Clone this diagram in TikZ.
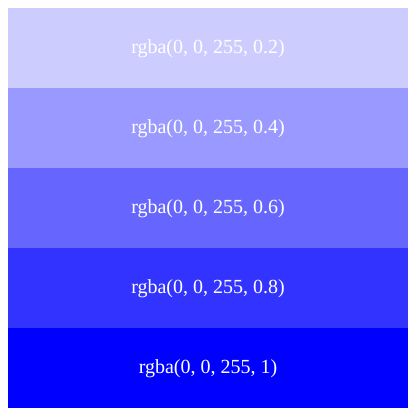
\documentclass[tikz,border=0pt]{standalone}
\usepackage{fontspec}
\setmainfont{Liberation Serif}
\definecolor{cA}{RGB}{204,204,255}
\definecolor{cB}{RGB}{153,153,255}
\definecolor{cC}{RGB}{102,102,255}
\definecolor{cD}{RGB}{51,51,255}
\definecolor{cE}{RGB}{0,0,255}
\begin{document}
\begin{tikzpicture}[x=1pt,y=-1pt,
  band/.style={minimum width=400pt,minimum height=80pt,inner sep=0pt,outer sep=0pt,fill=#1,anchor=north west},
  lbl/.style={text=white,font=\fontsize{20}{24}\selectfont,inner sep=0pt}]
\useasboundingbox (0,0) rectangle (417,417);
\node[band=cA] (b1) at (8,8) {};
\node[band=cB] (b2) at (8,88) {};
\node[band=cC] (b3) at (8,168) {};
\node[band=cD] (b4) at (8,248) {};
\node[band=cE] (b5) at (8,328) {};
\node[lbl] (t1) at ([yshift=-1pt]b1.center) {rgba(0, 0, 255, 0.2)};
\node[lbl] (t2) at ([yshift=-1pt]b2.center) {rgba(0, 0, 255, 0.4)};
\node[lbl] (t3) at ([yshift=-1pt]b3.center) {rgba(0, 0, 255, 0.6)};
\node[lbl] (t4) at ([yshift=-1pt]b4.center) {rgba(0, 0, 255, 0.8)};
\node[lbl] (t5) at ([yshift=-1pt]b5.center) {rgba(0, 0, 255, 1)};
\end{tikzpicture}
\end{document}
